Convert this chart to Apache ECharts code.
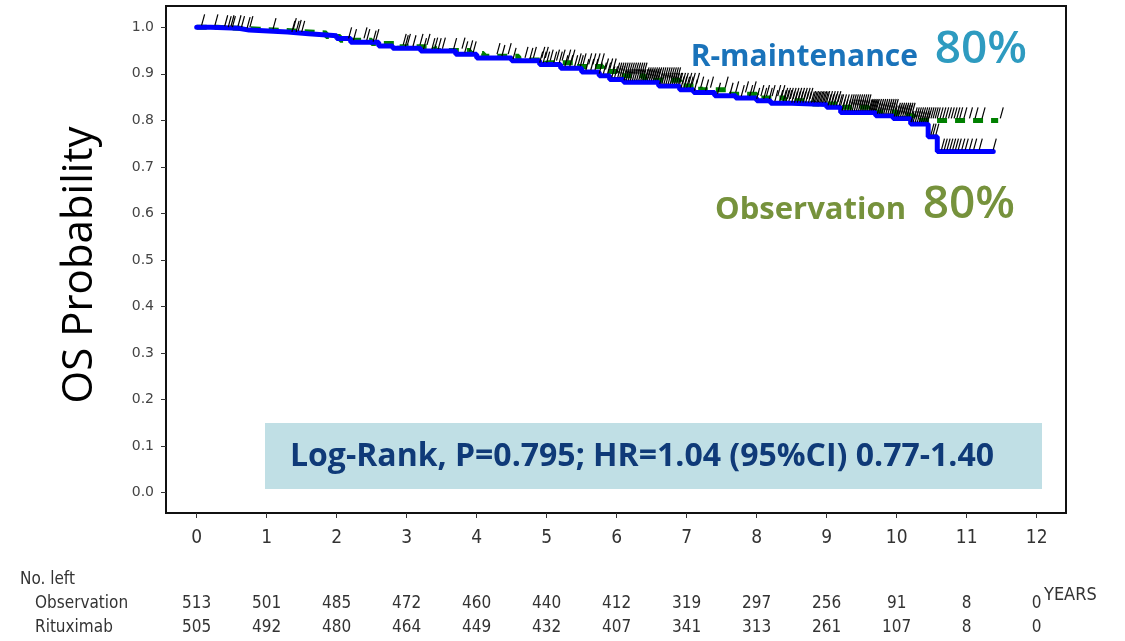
<!DOCTYPE html>
<html>
<head>
<meta charset="utf-8">
<title>OS Probability</title>
<script src="https://cdn.jsdelivr.net/npm/echarts@6/dist/echarts.min.js"></script>
<style>
  html, body { margin: 0; padding: 0; background: #ffffff; }
  #chart { width: 1125px; height: 641px; }
</style>
</head>
<body>
<div id="chart"></div>
<script>
// Tick values
const yearTicks = [0, 1, 2, 3, 4, 5, 6, 7, 8, 9, 10, 11, 12];
const probTicks = [0, 0.1, 0.2, 0.3, 0.4, 0.5, 0.6, 0.7, 0.8, 0.9, 1.0];

// Number at risk per year
const obsAtRisk = [513, 501, 485, 472, 460, 440, 412, 319, 297, 256, 91, 8, 0];
const ritAtRisk = [505, 492, 480, 464, 449, 432, 407, 341, 313, 261, 107, 8, 0];

// Observation arm: step times (years) and survival from that time on
const obsTimes = [0, 0.3, 0.9, 1.4, 1.85, 2.05, 2.5, 2.9, 3.4, 3.9, 4.1, 4.6, 5.0, 5.4, 5.8, 6.0, 6.4, 6.9, 7.2, 7.6, 8.0, 8.4, 8.8, 9.2, 9.6, 10.0, 10.25, 11.45];
const obsSurv  = [1.0, 0.996, 0.992, 0.988, 0.980, 0.972, 0.965, 0.958, 0.950, 0.944, 0.938, 0.930, 0.924, 0.916, 0.905, 0.896, 0.886, 0.874, 0.866, 0.856, 0.848, 0.842, 0.835, 0.828, 0.818, 0.810, 0.800, 0.800];

// Rituximab maintenance arm
const ritTimes = [0, 0.2, 0.6, 0.75, 1.3, 1.6, 2.0, 2.2, 2.6, 2.8, 3.2, 3.7, 4.0, 4.5, 4.9, 5.2, 5.5, 5.75, 5.9, 6.1, 6.6, 6.9, 7.1, 7.4, 7.7, 8.0, 8.2, 8.5, 9.0, 9.2, 9.7, 9.95, 10.2, 10.45, 10.58, 11.38];
const ritSurv  = [1.0, 0.998, 0.994, 0.990, 0.986, 0.982, 0.976, 0.968, 0.960, 0.955, 0.949, 0.942, 0.934, 0.928, 0.920, 0.912, 0.904, 0.896, 0.888, 0.882, 0.874, 0.866, 0.860, 0.853, 0.848, 0.842, 0.837, 0.834, 0.828, 0.817, 0.810, 0.804, 0.792, 0.765, 0.733, 0.733];

// Censoring times (years), Observation arm
const obsCensored = [
  0.26, 0.45, 0.51, 0.64, 0.76, 1.09, 1.38, 1.45, 2.17, 2.39, 2.52, 2.95, 3.01, 3.19, 3.29, 3.40, 3.51, 3.79, 3.90,
  4.29, 4.45, 4.69, 4.81, 4.93, 4.98, 5.05, 5.14, 5.22, 5.30, 5.36, 5.45, 5.52, 5.60, 5.66, 5.72, 5.78, 5.84, 5.90, 5.95,
  6.00, 6.03, 6.06, 6.09, 6.12, 6.15, 6.18, 6.21, 6.24, 6.27, 6.30, 6.33, 6.36, 6.39, 6.42, 6.45, 6.48, 6.51, 6.54, 6.57,
  6.60, 6.63, 6.66, 6.69, 6.72, 6.75, 6.78, 6.81, 6.84, 6.87, 6.90, 6.94, 6.98, 7.03, 7.08, 7.14,
  7.20, 7.34, 7.55, 7.70, 7.84, 7.95, 8.06, 8.14, 8.22, 8.30,
  8.36, 8.40, 8.44, 8.48, 8.52, 8.56, 8.60, 8.64, 8.68, 8.72, 8.76, 8.80, 8.84, 8.88, 8.92, 8.96, 9.00, 9.04, 9.08, 9.12,
  9.16, 9.20, 9.24, 9.28,
  9.32, 9.35, 9.38, 9.41, 9.44, 9.47, 9.50, 9.53, 9.56, 9.59, 9.62, 9.65, 9.68, 9.71, 9.74, 9.77, 9.80, 9.83, 9.86, 9.89,
  9.92, 9.95, 9.98, 10.01, 10.04, 10.07, 10.10, 10.13, 10.16, 10.19, 10.22, 10.25, 10.28, 10.31, 10.34, 10.37, 10.40,
  10.43, 10.46, 10.49, 10.52, 10.55, 10.58,
  10.62, 10.66, 10.70, 10.74, 10.78, 10.82, 10.86, 10.90, 10.96, 11.04, 11.12, 11.22, 11.48
];

// Censoring times (years), Rituximab arm
const ritCensored = [
  0.07, 0.40, 0.49, 0.59, 0.72, 1.36, 1.42, 1.50, 2.24, 2.43, 2.56, 2.98, 3.09, 3.24, 3.36, 3.45, 3.67, 3.83, 3.95,
  4.36, 4.52, 4.76, 4.90, 4.95, 5.00, 5.10, 5.18, 5.26, 5.33, 5.40, 5.48, 5.56, 5.63, 5.69, 5.75, 5.81, 5.87, 5.93, 5.97,
  6.015, 6.045, 6.075, 6.105, 6.135, 6.165, 6.195, 6.225, 6.255, 6.285, 6.315, 6.345, 6.375, 6.405, 6.435, 6.465, 6.495,
  6.525, 6.555, 6.585, 6.615, 6.645, 6.675, 6.705, 6.735, 6.765, 6.795, 6.825, 6.855, 6.885, 6.92, 6.96, 7.00, 7.05, 7.11,
  7.27, 7.44, 7.62, 7.78, 7.90, 8.00, 8.10, 8.18, 8.26, 8.33,
  8.38, 8.42, 8.46, 8.50, 8.54, 8.58, 8.62, 8.66, 8.70, 8.74, 8.78, 8.82, 8.86, 8.90, 8.94, 8.98, 9.02, 9.06, 9.10, 9.14,
  9.18, 9.22, 9.26, 9.30,
  9.335, 9.365, 9.395, 9.425, 9.455, 9.485, 9.515, 9.545, 9.575, 9.605, 9.635, 9.665, 9.695, 9.725, 9.755, 9.785, 9.815,
  9.845, 9.875, 9.905, 9.935, 9.965, 9.995, 10.025, 10.055, 10.085, 10.115, 10.145, 10.175, 10.205, 10.235, 10.265,
  10.295, 10.325, 10.355, 10.385, 10.415, 10.44,
  10.49, 10.52, 10.56, 10.64, 10.68, 10.72, 10.76, 10.80, 10.84, 10.88, 10.93, 10.98, 11.04, 11.10, 11.18, 11.38
];

// Survival value of a step curve at time t
function survAt(times, surv, t) {
  let s = surv[0];
  for (let i = 0; i < times.length; i++) {
    if (times[i] <= t) s = surv[i]; else break;
  }
  return s;
}
const zip = (a, b) => a.map((v, i) => [v, b[i]]);
const censorPoints = (cens, times, surv) => cens.map(t => [t, survAt(times, surv, t)]);

const tickFont = '"Liberation Sans Narrow", "DejaVu Sans Condensed", sans-serif';

const chart = echarts.init(document.getElementById('chart'), null, { renderer: 'canvas' });

// Censoring tick: a short slanted stroke sitting on the curve
function censorMark(params, api) {
  const p = api.coord([api.value(0), api.value(1)]);
  return {
    type: 'line',
    shape: { x1: p[0], y1: p[1] - 2, x2: p[0] + 3, y2: p[1] - 13 },
    style: { stroke: '#000', lineWidth: 1.2 }
  };
}

chart.setOption({
  animation: false,
  backgroundColor: '#ffffff',
  grid: {
    left: 166, top: 6, width: 900, height: 507,
    show: true, borderColor: '#111', borderWidth: 2, backgroundColor: 'transparent'
  },
  xAxis: {
    type: 'value',
    min: -0.4386, max: 12.419,
    axisLine: { show: false, onZero: false },
    splitLine: { show: false },
    axisTick: { show: true, customValues: yearTicks, length: 5, lineStyle: { color: '#333', width: 1 } },
    axisLabel: {
      customValues: yearTicks, margin: 16,
      fontFamily: tickFont, fontSize: 19, color: '#333'
    }
  },
  yAxis: {
    type: 'value',
    min: -0.0436, max: 1.0458,
    axisLine: { show: false, onZero: false },
    splitLine: { show: false },
    axisTick: { show: true, customValues: probTicks, length: 5, lineStyle: { color: '#333', width: 1 } },
    axisLabel: {
      customValues: probTicks, margin: 12,
      fontFamily: '"DejaVu Sans", sans-serif', fontSize: 14, color: '#444',
      formatter: v => v.toFixed(1)
    }
  },
  series: [
    {
      name: 'Observation', type: 'line', step: 'end', showSymbol: false,
      data: zip(obsTimes, obsSurv),
      lineStyle: { color: '#008000', width: 5, type: [10, 8], cap: 'butt' },
      z: 2
    },
    {
      name: 'Rituximab', type: 'line', step: 'end', showSymbol: false,
      data: zip(ritTimes, ritSurv),
      lineStyle: { color: '#0000ff', width: 5, cap: 'round' },
      z: 3
    },
    {
      name: 'Observation censored', type: 'custom', renderItem: censorMark,
      data: censorPoints(obsCensored, obsTimes, obsSurv), z: 4, clip: false
    },
    {
      name: 'Rituximab censored', type: 'custom', renderItem: censorMark,
      data: censorPoints(ritCensored, ritTimes, ritSurv), z: 4, clip: false
    }
  ]
});

// Number-at-risk table below the x axis, aligned to the year ticks
const tableFont = '17px "Liberation Sans Narrow", "DejaVu Sans Condensed", sans-serif';
const tableEls = [];
yearTicks.forEach((yr, i) => {
  const x = chart.convertToPixel({ xAxisIndex: 0 }, yr);
  tableEls.push({ type: 'text', x: x, y: 604, style: { text: String(obsAtRisk[i]), font: tableFont, fill: '#333', textAlign: 'center', textVerticalAlign: 'middle' } });
  tableEls.push({ type: 'text', x: x, y: 628, style: { text: String(ritAtRisk[i]), font: tableFont, fill: '#333', textAlign: 'center', textVerticalAlign: 'middle' } });
});

const labelFont = '"Open Sans", "Noto Sans", sans-serif';

chart.setOption({
  graphic: [
    // y-axis title
    { type: 'text', x: 80, y: 265, rotation: Math.PI / 2,
      style: { text: 'OS Probability', font: '42px ' + labelFont, fill: '#000', textAlign: 'center', textVerticalAlign: 'middle' } },
    // arm annotations
    { type: 'text', x: 918, y: 57,
      style: { text: 'R-maintenance', font: 'bold 30px ' + labelFont, fill: '#1a73ba', textAlign: 'right', textVerticalAlign: 'middle' } },
    { type: 'text', x: 1027, y: 50,
      style: { text: '80%', font: '600 46px ' + labelFont, fill: '#2e9bc0', textAlign: 'right', textVerticalAlign: 'middle' } },
    { type: 'text', x: 906, y: 210,
      style: { text: 'Observation', font: 'bold 31px ' + labelFont, fill: '#76923c', textAlign: 'right', textVerticalAlign: 'middle' } },
    { type: 'text', x: 1015, y: 205,
      style: { text: '80%', font: '600 46px ' + labelFont, fill: '#76923c', textAlign: 'right', textVerticalAlign: 'middle' } },
    // log-rank box
    { type: 'rect', shape: { x: 265, y: 423, width: 777, height: 66 }, style: { fill: '#c0dfe5' }, z: 1 },
    { type: 'text', x: 642, y: 457, z: 2,
      style: { text: 'Log-Rank, P=0.795; HR=1.04 (95%CI) 0.77-1.40', font: 'bold 32px ' + labelFont, fill: '#0f3a78', textAlign: 'center', textVerticalAlign: 'middle' } },
    // table headings
    { type: 'text', x: 20, y: 580, style: { text: 'No. left', font: tableFont, fill: '#333', textVerticalAlign: 'middle' } },
    { type: 'text', x: 35, y: 604, style: { text: 'Observation', font: tableFont, fill: '#333', textVerticalAlign: 'middle' } },
    { type: 'text', x: 35, y: 628, style: { text: 'Rituximab', font: tableFont, fill: '#333', textVerticalAlign: 'middle' } },
    { type: 'text', x: 1044, y: 595, style: { text: 'YEARS', font: '18px "Liberation Sans Narrow", "DejaVu Sans Condensed", sans-serif', fill: '#333', textVerticalAlign: 'middle' } }
  ].concat(tableEls)
});
</script>
</body>
</html>
